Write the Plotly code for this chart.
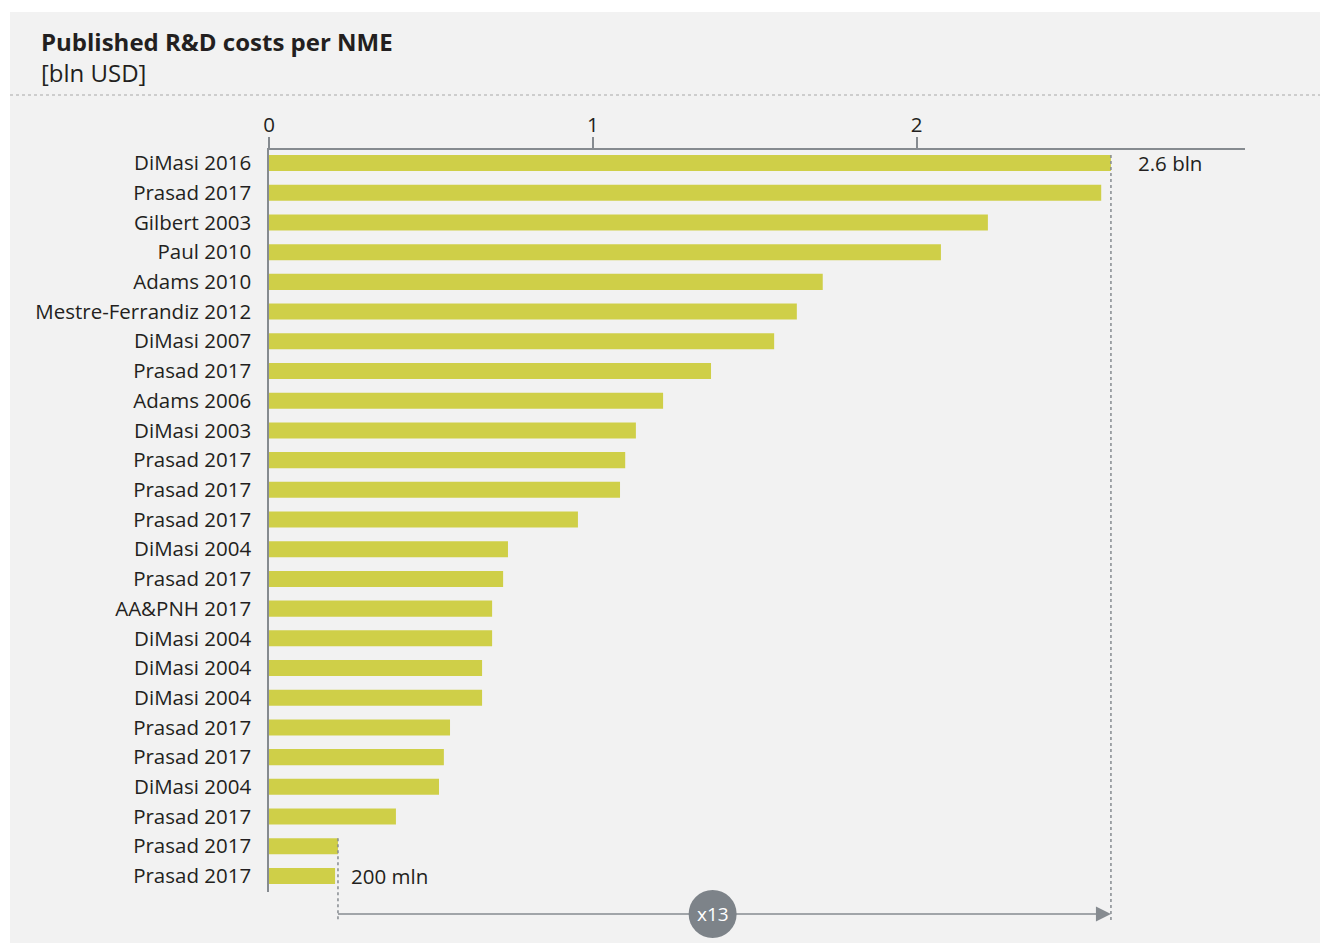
import plotly.graph_objects as go

# ---------------- data ----------------
labels = [
    "DiMasi 2016", "Prasad 2017", "Gilbert 2003", "Paul 2010", "Adams 2010",
    "Mestre-Ferrandiz 2012", "DiMasi 2007", "Prasad 2017", "Adams 2006",
    "DiMasi 2003", "Prasad 2017", "Prasad 2017", "Prasad 2017", "DiMasi 2004",
    "Prasad 2017", "AA&PNH 2017", "DiMasi 2004", "DiMasi 2004", "DiMasi 2004",
    "Prasad 2017", "Prasad 2017", "DiMasi 2004", "Prasad 2017", "Prasad 2017",
    "Prasad 2017",
]
values = [
    2.60, 2.57, 2.22, 2.075, 1.71,
    1.63, 1.56, 1.365, 1.217,
    1.133, 1.10, 1.084, 0.954, 0.738,
    0.723, 0.689, 0.689, 0.658, 0.658,
    0.559, 0.540, 0.525, 0.392, 0.213,
    0.204,
]
x_ticks = [0, 1, 2]

# ---------------- styling ----------------
FONT = "Open Sans"
TEXT = "#231f20"
BAR = "#cfcf48"
GREY = "#868b90"
CIRCLE = "#7d8389"
PANEL = "#f2f2f2"

W, H = 1320, 943
L, R, T, B = 269, 75, 150, 51
PW, PH = W - L - R, H - T - B
X_MAX = 3.014

n = len(labels)
idx = list(range(n))
Y_TOP, Y_BOT = -0.44, n - 1 + 0.54
HALF = 0.27


def pxx(x):
    return (x - L) / PW


def pxy(y):
    return (H - B - y) / PH


def idx_y(i):
    return (Y_BOT - i) / (Y_BOT - Y_TOP)


hi = values[0]
lo_line = max(values[-2:])
lo = values[-1]
ratio = round(hi / lo)
ARROW_Y = pxy(914)
DOT_BOTTOM = pxy(920)
CIRCLE_X = 1.37

fig = go.Figure(
    go.Bar(
        x=values, y=idx, orientation="h",
        marker=dict(color=BAR, line=dict(width=0)),
        hoverinfo="x+text", text=labels, textposition="none",
    )
)

shapes = [
    # panel background
    dict(type="rect", xref="paper", yref="paper", x0=pxx(10), x1=pxx(W + 5),
         y0=pxy(H + 5), y1=pxy(12), fillcolor=PANEL, line=dict(width=0), layer="below"),
    # dotted separator under title
    dict(type="line", xref="paper", yref="paper", x0=pxx(10), x1=pxx(W),
         y0=pxy(95), y1=pxy(95), line=dict(color="#a8a8a8", width=1, dash="dot")),
    # dotted verticals
    dict(type="line", xref="x", yref="paper", x0=hi, x1=hi,
         y0=idx_y(0 - HALF), y1=DOT_BOTTOM, line=dict(color=GREY, width=1.5, dash="dot")),
    dict(type="line", xref="x", yref="paper", x0=lo_line, x1=lo_line,
         y0=idx_y(n - 2 - HALF), y1=DOT_BOTTOM, line=dict(color=GREY, width=1.5, dash="dot")),
    # arrow line
    dict(type="line", xref="x", yref="paper", x0=lo_line, x1=hi - 14 / PW * X_MAX,
         y0=ARROW_Y, y1=ARROW_Y, line=dict(color=GREY, width=1.5)),
    # arrow head
    dict(type="path", xref="x", yref="paper", xsizemode="pixel", ysizemode="pixel",
         xanchor=hi, yanchor=ARROW_Y, path="M -15 7.5 L 0 0 L -15 -7.5 Z",
         fillcolor=GREY, line=dict(width=0)),
    # circle
    dict(type="circle", xref="x", yref="paper", xsizemode="pixel", ysizemode="pixel",
         xanchor=CIRCLE_X, yanchor=ARROW_Y, x0=-24, x1=24, y0=-24, y1=24,
         fillcolor=CIRCLE, line=dict(width=0)),
]

annotations = [
    dict(xref="paper", yref="paper", x=pxx(39), y=pxy(42), xanchor="left", yanchor="middle",
         text="<b>Published R&D costs per NME</b>", showarrow=False,
         font=dict(family=FONT, size=24, color=TEXT)),
    dict(xref="paper", yref="paper", x=pxx(39), y=pxy(73), xanchor="left", yanchor="middle",
         text="[bln USD]", showarrow=False,
         font=dict(family=FONT, size=24, color=TEXT)),
    dict(xref="x", yref="y", x=hi, y=0, xanchor="left", yanchor="middle", xshift=25,
         text=f"{hi:.1f} bln", showarrow=False,
         font=dict(family=FONT, size=20.5, color=TEXT)),
    dict(xref="x", yref="y", x=lo, y=n - 1, xanchor="left", yanchor="middle", xshift=14,
         text=f"{round(lo * 1000, -2):.0f} mln", showarrow=False,
         font=dict(family=FONT, size=20.5, color=TEXT)),
    dict(xref="x", yref="paper", x=CIRCLE_X, y=ARROW_Y, xanchor="center", yanchor="middle",
         text=f"x{ratio}", showarrow=False,
         font=dict(family=FONT, size=19, color="white")),
]

fig.update_layout(
    width=W, height=H,
    margin=dict(l=L, r=R, t=T, b=B),
    paper_bgcolor="white",
    plot_bgcolor="rgba(0,0,0,0)",
    bargap=0.46,
    showlegend=False,
    font=dict(family=FONT, color=TEXT),
    shapes=shapes,
    annotations=annotations,
    xaxis=dict(
        side="top", range=[0, X_MAX], tickvals=x_ticks, ticktext=[str(t) for t in x_ticks],
        showgrid=False, zeroline=False, showline=True, linecolor=GREY, linewidth=1.5,
        ticks="outside", ticklen=11, tickwidth=1.5, tickcolor=GREY,
        ticklabelstandoff=-3,
        tickfont=dict(family=FONT, size=20.5, color=TEXT),
    ),
    yaxis=dict(
        range=[Y_BOT, Y_TOP], tickvals=idx, ticktext=labels,
        showgrid=False, zeroline=False, showline=True, linecolor=GREY, linewidth=1.5,
        ticks="outside", ticklen=12, tickcolor="rgba(0,0,0,0)",
        tickfont=dict(family=FONT, size=20.5, color=TEXT),
    ),
)

fig.write_html("out.html")
